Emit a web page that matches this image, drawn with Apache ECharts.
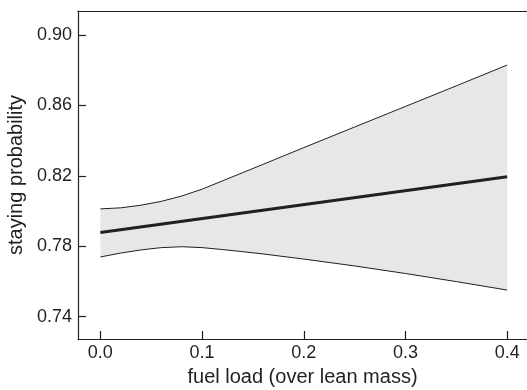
<!DOCTYPE html>
<html>
<head>
<meta charset="utf-8">
<script src="https://cdn.jsdelivr.net/npm/echarts@6/dist/echarts.min.js"></script>
<style>
  html, body { margin: 0; padding: 0; background: #fff; }
  #chart { width: 527px; height: 390px; }
</style>
</head>
<body>
<div id="chart"></div>
<script>
const fuelLoad = [0, 0.02, 0.04, 0.06, 0.08, 0.10, 0.12, 0.14, 0.16, 0.20, 0.25, 0.30, 0.35, 0.40];
const bandUpper = [0.8012, 0.8018, 0.8033, 0.8055, 0.8085, 0.8124, 0.8171, 0.8218, 0.8265, 0.8360, 0.8477, 0.8594, 0.8711, 0.8829];
const bandLower = [0.7739, 0.7761, 0.7779, 0.7792, 0.7797, 0.7792, 0.7781, 0.7769, 0.7756, 0.7727, 0.7688, 0.7645, 0.7599, 0.7551];

// fitted line (straight)
const fitX = [0, 0.4];
const fitY = [0.7878, 0.8195];

const xTicks = [0, 0.1, 0.2, 0.3, 0.4];
const yTicks = [0.74, 0.78, 0.82, 0.86, 0.90];

const ink = '#231f20';
const font = 'Liberation Sans, Arial, sans-serif';

const xMin = -0.022, xMax = 0.4195;
const yMin = 0.7273, yMax = 0.9136;

const bandData = fuelLoad.map((x, i) => [x, bandLower[i], bandUpper[i]]);
const upperData = fuelLoad.map((x, i) => [x, bandUpper[i]]);
const lowerData = fuelLoad.map((x, i) => [x, bandLower[i]]);
const fitData = fitX.map((x, i) => [x, fitY[i]]);

const chart = echarts.init(document.getElementById('chart'), null, { renderer: 'canvas' });

// grey band as one polygon: upper edge left->right, lower edge back
function renderBand(params, api) {
  if (params.dataIndex !== 0) return null;
  const top = bandData.map(d => api.coord([d[0], d[2]]));
  const bottom = bandData.map(d => api.coord([d[0], d[1]])).reverse();
  return {
    type: 'polygon',
    shape: { points: top.concat(bottom) },
    style: { fill: '#e6e7e8', stroke: null }
  };
}

const edgeLine = { color: ink, width: 1 };

const option = {
  animation: false,
  backgroundColor: '#fff',
  textStyle: { fontFamily: font, color: ink },
  grid: { left: 78, right: 0, top: 11, bottom: 51, containLabel: false, outerBoundsMode: 'none' },
  xAxis: [
    {
      type: 'value',
      min: xMin,
      max: xMax,
      name: 'fuel load (over lean mass)',
      nameLocation: 'middle',
      nameGap: 28,
      nameTextStyle: { fontSize: 20, color: ink, fontFamily: font },
      axisLine: { show: true, onZero: false, lineStyle: { color: ink, width: 1.2 } },
      axisTick: { show: true, inside: true, length: 8, customValues: xTicks, lineStyle: { color: ink, width: 1.2 } },
      axisLabel: {
        customValues: xTicks,
        formatter: v => v.toFixed(1),
        fontSize: 18, color: ink, fontFamily: font, margin: 5
      },
      splitLine: { show: false }
    },
    {
      type: 'value',
      position: 'top',
      min: xMin,
      max: xMax,
      axisLine: { show: true, onZero: false, lineStyle: { color: ink, width: 1.2 } },
      axisTick: { show: false },
      axisLabel: { show: false },
      splitLine: { show: false }
    }
  ],
  yAxis: {
    type: 'value',
    min: yMin,
    max: yMax,
    name: 'staying probability',
    nameLocation: 'middle',
    nameGap: 50,
    nameTextStyle: { fontSize: 20, color: ink, fontFamily: font },
    axisLine: { show: true, onZero: false, lineStyle: { color: ink, width: 1.2 } },
    axisTick: { show: true, inside: true, length: 8, customValues: yTicks, lineStyle: { color: ink, width: 1.2 } },
    axisLabel: {
      customValues: yTicks,
      formatter: v => v.toFixed(2),
      fontSize: 18, color: ink, fontFamily: font, margin: 6
    },
    splitLine: { show: false }
  },
  series: [
    {
      type: 'custom',
      name: 'band',
      data: bandData,
      encode: { x: 0, y: [1, 2] },
      renderItem: renderBand,
      z: 1
    },
    {
      type: 'line',
      name: 'upper',
      data: upperData,
      symbol: 'none',
      lineStyle: edgeLine,
      z: 3
    },
    {
      type: 'line',
      name: 'lower',
      data: lowerData,
      symbol: 'none',
      lineStyle: edgeLine,
      z: 3
    },
    {
      type: 'line',
      name: 'fit',
      data: fitData,
      symbol: 'none',
      lineStyle: { color: ink, width: 3 },
      z: 4
    }
  ]
};

chart.setOption(option);
</script>
</body>
</html>
